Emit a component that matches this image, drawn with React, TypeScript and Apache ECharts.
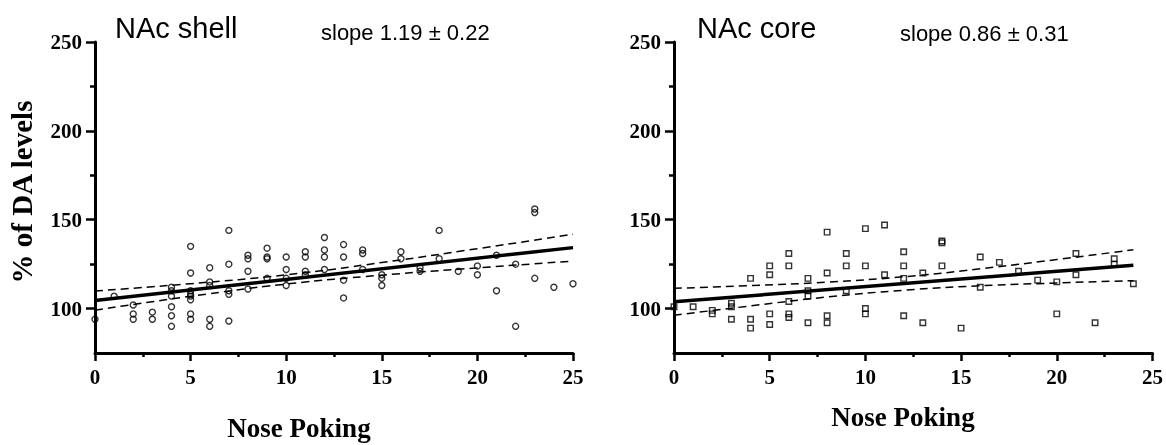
import React, { useEffect, useRef } from "react";
import * as echarts from "echarts";

// NAc shell scatter (x = nose pokes, y = % of DA levels)
const shellX = [0, 1, 2, 2, 2, 3, 3, 4, 4, 4, 4, 4, 4, 5, 5, 5, 5, 5, 5, 5, 5, 6, 6, 6, 6, 6, 7, 7, 7, 7, 7, 8, 8, 8, 8, 9, 9, 9, 9, 10, 10, 10, 10, 11, 11, 11, 11, 12, 12, 12, 12, 13, 13, 13, 13, 14, 14, 14, 15, 15, 15, 16, 16, 17, 17, 18, 18, 19, 20, 20, 21, 21, 22, 22, 23, 23, 23, 24, 25];
const shellY = [94, 107, 102, 97, 94, 98, 94, 112, 110, 107, 101, 96, 90, 135, 120, 110, 108, 107, 105, 97, 94, 123, 115, 113, 94, 90, 144, 125, 110, 108, 93, 130, 128, 121, 111, 134, 129, 128, 117, 129, 122, 117, 113, 132, 129, 121, 119, 140, 133, 129, 122, 136, 129, 116, 106, 133, 131, 122, 119, 117, 113, 132, 128, 123, 121, 144, 128, 121, 124, 119, 130, 110, 125, 90, 156, 154, 117, 112, 114];

// NAc core scatter
const coreX = [0, 1, 2, 2, 3, 3, 3, 4, 4, 4, 5, 5, 5, 5, 6, 6, 6, 6, 6, 7, 7, 7, 7, 8, 8, 8, 8, 9, 9, 9, 10, 10, 10, 10, 11, 11, 12, 12, 12, 12, 13, 13, 14, 14, 14, 15, 16, 16, 17, 18, 19, 20, 20, 21, 21, 22, 23, 23, 24];
const coreY = [101, 101, 99, 97, 103, 101, 94, 117, 94, 89, 124, 119, 97, 91, 131, 124, 104, 97, 95, 117, 110, 107, 92, 143, 120, 96, 92, 131, 124, 110, 145, 124, 100, 97, 147, 119, 132, 124, 117, 96, 120, 92, 138, 137, 124, 89, 129, 112, 126, 121, 116, 115, 97, 131, 119, 92, 128, 125, 114];

// regression lines and 95% bands
const shellFitX = [0, 25];
const shellFitY = [104.5, 134.3];
const shellBandX = [0, 5, 10, 15, 20, 25];
const shellUpper = [109.9, 114.0, 119.0, 125.9, 133.7, 141.8];
const shellLower = [99.1, 106.9, 113.8, 118.8, 122.9, 126.7];

const coreFitX = [0, 24];
const coreFitY = [103.8, 124.4];
const coreBandX = [0, 4, 8, 12, 16, 20, 24];
const coreUpper = [111.4, 112.9, 114.9, 117.9, 122.4, 127.6, 133.1];
const coreLower = [96.2, 101.5, 106.5, 110.3, 112.8, 114.4, 115.7];

const xMajor = [0, 5, 10, 15, 20, 25];
const xMinor = [2.5, 7.5, 12.5, 17.5, 22.5];
const yMajor = [100, 150, 200, 250];
const yMinor = [125, 175, 225];

const zip = (xs: number[], ys: number[]) => xs.map((x, i) => [x, ys[i]]);

export default function App() {
  const ref = useRef<HTMLDivElement>(null);
  useEffect(() => {
    const chart = echarts.init(ref.current!, null, { renderer: "svg" });
    const serif = "Liberation Serif";
    const sans = "Liberation Sans";
    const labelStyle = { fontFamily: serif, fontWeight: "bold" as const, fontSize: 21, color: "#000" };

    const xAxes: any[] = [];
    const yAxes: any[] = [];
    [0, 1].forEach((g) => {
      xAxes.push({
        type: "value", gridIndex: g, min: 0, max: 25, position: "bottom",
        axisLine: { onZero: false, lineStyle: { color: "#000", width: 3 } },
        axisTick: { customValues: xMajor, length: 8, lineStyle: { color: "#000", width: 2.5 } },
        axisLabel: { ...labelStyle, customValues: xMajor, margin: 13 },
        splitLine: { show: false },
      });
      xAxes.push({
        type: "value", gridIndex: g, min: 0, max: 25, position: "bottom",
        axisLine: { show: false },
        axisTick: { customValues: xMinor, length: 4, lineStyle: { color: "#000", width: 2.5 } },
        axisLabel: { show: false },
        splitLine: { show: false },
      });
      yAxes.push({
        type: "value", gridIndex: g, min: 75, max: 250, position: "left",
        axisLine: { onZero: false, lineStyle: { color: "#000", width: 3 } },
        axisTick: { customValues: yMajor, length: 9, lineStyle: { color: "#000", width: 2.5 } },
        axisLabel: { ...labelStyle, customValues: yMajor, margin: 13 },
        splitLine: { show: false },
      });
      yAxes.push({
        type: "value", gridIndex: g, min: 75, max: 250, position: "left",
        axisLine: { show: false },
        axisTick: { customValues: yMinor, length: 5, lineStyle: { color: "#000", width: 2.5 } },
        axisLabel: { show: false },
        splitLine: { show: false },
      });
    });

    const scatter = (xs: number[], ys: number[], g: number, symbol: string) => ({
      type: "scatter", xAxisIndex: g * 2, yAxisIndex: g * 2, data: zip(xs, ys),
      symbol, symbolSize: symbol === "circle" ? 6 : 5.5, z: 5,
      itemStyle: { color: "rgba(255,255,255,0)", borderColor: "#000", borderWidth: 1.4 },
    });
    const fit = (xs: number[], ys: number[], g: number) => ({
      type: "line", xAxisIndex: g * 2, yAxisIndex: g * 2, data: zip(xs, ys),
      showSymbol: false, lineStyle: { color: "#000", width: 3.5 }, z: 3,
    });
    const band = (xs: number[], ys: number[], g: number) => ({
      type: "line", xAxisIndex: g * 2, yAxisIndex: g * 2, data: zip(xs, ys), smooth: true,
      showSymbol: false, lineStyle: { color: "#000", width: 1.5, type: [8, 5] }, z: 3,
    });

    chart.setOption({
      animation: false,
      grid: [
        { left: 95, width: 478, top: 42, bottom: 92 },
        { left: 674, width: 480, top: 42, bottom: 92 },
      ],
      xAxis: xAxes,
      yAxis: yAxes,
      series: [
        band(shellBandX, shellUpper, 0),
        band(shellBandX, shellLower, 0),
        fit(shellFitX, shellFitY, 0),
        scatter(shellX, shellY, 0, "circle"),
        band(coreBandX, coreUpper, 1),
        band(coreBandX, coreLower, 1),
        fit(coreFitX, coreFitY, 1),
        scatter(coreX, coreY, 1, "rect"),
      ],
      graphic: [
        { type: "text", x: 115, y: 28, style: { text: "NAc shell", font: `29px ${sans}`, fill: "#000", verticalAlign: "middle" } },
        { type: "text", x: 321, y: 32, style: { text: "slope 1.19 ± 0.22", font: `22px ${sans}`, fill: "#000", verticalAlign: "middle" } },
        { type: "text", x: 697, y: 28, style: { text: "NAc core", font: `29px ${sans}`, fill: "#000", verticalAlign: "middle" } },
        { type: "text", x: 900, y: 33, style: { text: "slope 0.86 ± 0.31", font: `22px ${sans}`, fill: "#000", verticalAlign: "middle" } },
        { type: "text", x: 299, y: 428, style: { text: "Nose Poking", font: `bold 27px ${serif}`, fill: "#000", align: "center", verticalAlign: "middle" } },
        { type: "text", x: 903, y: 417, style: { text: "Nose Poking", font: `bold 27px ${serif}`, fill: "#000", align: "center", verticalAlign: "middle" } },
        { type: "text", x: 22, y: 192, rotation: Math.PI / 2, style: { text: "% of DA levels", font: `bold 29px ${serif}`, fill: "#000", align: "center", verticalAlign: "middle" } },
      ],
    });
    return () => chart.dispose();
  }, []);
  return <div ref={ref} style={{ position: "fixed", left: 0, top: 0, width: 1166, height: 445 }} />;
}
